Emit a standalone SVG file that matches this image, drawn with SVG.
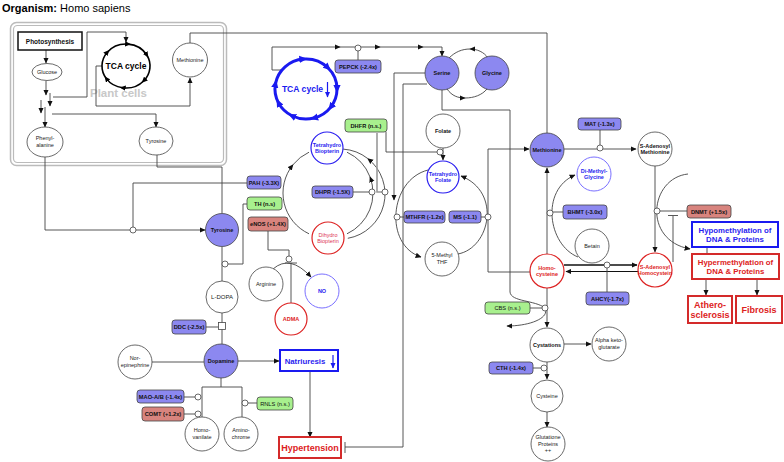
<svg xmlns="http://www.w3.org/2000/svg" width="784" height="462" viewBox="0 0 784 462">
<defs>
<marker id="a" viewBox="0 0 10 10" refX="9" refY="5" markerWidth="6" markerHeight="6" markerUnits="userSpaceOnUse" orient="auto"><path d="M0,0.5L10,5L0,9.5z" fill="#111"/></marker>
<marker id="ak" viewBox="0 0 10 10" refX="5" refY="5" markerWidth="6" markerHeight="6" markerUnits="userSpaceOnUse" orient="auto"><path d="M0,0.5L10,5L0,9.5z" fill="#000"/></marker>
<marker id="ab" viewBox="0 0 10 10" refX="5" refY="5" markerWidth="8" markerHeight="8" markerUnits="userSpaceOnUse" orient="auto"><path d="M0,0.5L10,5L0,9.5z" fill="#1a1af0"/></marker>
<marker id="abe" viewBox="0 0 10 10" refX="9" refY="5" markerWidth="6" markerHeight="6" markerUnits="userSpaceOnUse" orient="auto"><path d="M0,0.5L10,5L0,9.5z" fill="#1a1af0"/></marker>
<style>
.ln{fill:none;stroke:#444;stroke-width:0.9}
.ar{marker-end:url(#a)}
.gr{fill:none;stroke:#999;stroke-width:1.6}
.cat{fill:#fff;stroke:#444;stroke-width:0.8}
.n{fill:#fff;stroke:#444;stroke-width:0.8}
.p{fill:#8c88f0;stroke:#444;stroke-width:0.8}
.g{fill:#a8f08e;stroke:#444;stroke-width:0.8}
.s{fill:#d8847e;stroke:#444;stroke-width:0.8}
.rd{fill:#fff;stroke:#dd2222;stroke-width:1.2}
.bu{fill:#fff;stroke:#2a1ef0;stroke-width:1.2}
.lb{fill:#fff;stroke:#7a70ff;stroke-width:1}
.rb{fill:#fff;stroke:#d42a2a;stroke-width:2}
.bb{fill:#fff;stroke:#1a1af0;stroke-width:2}
text{font-family:"Liberation Sans",Arial,Helvetica,sans-serif;text-anchor:middle;font-size:5.5px;fill:#222}
.b{font-weight:bold;fill:#111}
.k{font-weight:bold;font-size:5.7px;fill:#111}
.tr{fill:#dd2222;font-weight:bold}
.tp{fill:#dd3355}
.tbl{fill:#2a1ef0;font-weight:bold}
.big{font-weight:bold;font-size:7.8px}
</style>
</defs>
<rect width="784" height="462" fill="#fff"/>
<text x="2" y="12" style="text-anchor:start;font-size:11px;fill:#000"><tspan font-weight="bold">Organism:</tspan> Homo sapiens</text>

<g id="plant-cells">
<rect x="10.5" y="22.5" width="216" height="143" rx="6" fill="none" stroke="#bbb" stroke-width="1.5"/>
<rect x="13.5" y="25.5" width="210" height="137" rx="4" fill="none" stroke="#bbb" stroke-width="1.2"/>
<text x="90" y="97" style="text-anchor:start;font-size:11.5px;font-weight:bold;fill:#c8c8c8">Plant cells</text>
</g>

<g id="connectors">
<!-- plant -->
<path class="ln ar" d="M46,50V63"/>
<path class="ln ar" d="M46,81V95"/>
<path class="ln ar" d="M50,93V106"/>
<path class="ln ar" d="M41,100V113"/>
<path class="ln ar" d="M45,107V127"/>
<path class="ln ar" d="M53,97H87V32H126V42"/>
<path class="ln ar" d="M52,114H156V127"/>
<path class="ln ar" d="M102,66H96V106H190V78"/>
<path class="ln" d="M190,43V33H547V133"/>
<path class="ln ar" d="M45,157V230H205"/>
<path class="ln" d="M247,183H133V227"/>
<path class="ln" d="M157,155V167H222V213"/>
<path class="ln" d="M222,247V281"/>
<path class="ln" d="M247,204H243V264H228"/>
<path class="ln" d="M222,313V344"/>
<path class="ln" d="M206,327H218.5"/>
<path class="ln" d="M152,362H204"/>
<path class="ln ar" d="M238,361H279"/>
<path class="ln ar" d="M310,371V437"/>
<path class="ln" d="M221,378V387M202,387H242M202,387V417M242,387V417"/>
<path class="ln" d="M184,397H195M184,414H195M257,403H248"/>
<path class="ln" d="M268,231V250H289V256"/>
<path class="ln ar" d="M273,269Q290,254 311,277"/>
<path class="ln" d="M291,303V263M285,263H297"/>
<!-- biopterin cycle -->
<path class="ln ar" d="M309,233.8A45,45 0 0 1 293,164.7"/>
<path class="ln" d="M293,164.7A45,45 0 0 1 309,152.2"/>
<path class="ln ar" d="M347,233.8A45,45 0 0 0 370,176.9"/>
<path class="ln" d="M370,176.9A45,45 0 0 0 347,152.2"/>
<path class="ln ar" d="M347.8,238.3A45,45 0 0 0 367.7,158.5"/>
<path class="ln" d="M367.7,158.5A45,45 0 0 0 343.1,149.1"/>
<path class="ln" d="M353,192H369"/>
<path class="gr" d="M377,133V192H382"/>
<path class="ln" d="M386,132V152H437"/>
<!-- TCA human to serine -->
<path class="ln ar" d="M282,70H272V47H340"/>
<path class="ln ar" d="M340,47H380"/>
<path class="ln ar" d="M380,47H423"/>
<path class="ln ar" d="M423,47H442V56"/>
<path class="ln" d="M358,60V51"/>
<path class="ln ar" d="M488,58C484,52 477,49 470,49"/>
<path class="ln" d="M470,49C462,49 455,52 449,58"/>
<path class="ln ar" d="M447,89C452,96 458,98 465,98"/>
<path class="ln" d="M465,98C474,98 482,95 487,89"/>
<!-- folate -->
<path class="ln ar" d="M443,148V160"/>
<path class="ln ar" d="M425,73H394V200"/>
<path class="ln" d="M427,84H403V447H345M345,442V453"/>
<path class="ln ar" d="M442,90V110H510V292C511,302 535,300 545,308C550,318 530,326 507,326"/>
<path class="ln ar" d="M428,170C389,180 384,245 421,257"/>
<path class="ln ar" d="M458,254C490,248 502,192 461,176"/>
<path class="ln" d="M404,217H400M481,217H485"/>
<path class="ln ar" d="M530,272H488V149H529"/>
<path class="ln ar" d="M547,254V168"/>
<path class="ln ar" d="M578,257C548,245 540,190 575,175"/>
<path class="ln" d="M563,212H553"/>
<path class="ln ar" d="M564,149H636"/>
<path class="ln" d="M600,130V145"/>
<path class="ln ar" d="M655,166V252"/>
<path class="ln ar" d="M688,174C650,178 642,240 690,249"/>
<path class="ln" d="M687,211H660"/>
<path class="ln" d="M673,262V216M668,215.5H678"/>
<path d="M564,265H637" fill="none" stroke="#111" stroke-width="1.4" marker-end="url(#a)"/>
<path d="M639,271.5H566" fill="none" stroke="#111" stroke-width="1.2" marker-end="url(#a)"/>
<path class="ln" d="M607,268V292"/>
<path class="ln" d="M530,308H542"/>
<path class="ln ar" d="M547,288V327"/>
<path class="ln ar" d="M564,344H591"/>
<path class="ln" d="M533,368H541"/>
<path class="ln ar" d="M547,362V379"/>
<path class="ln ar" d="M547,412V427"/>
<path class="ln" d="M707,247V254"/>
<path class="ln ar" d="M706,279V295"/>
<path class="ln ar" d="M757,279V295"/>
<!-- catalysis circles -->
<circle class="cat" cx="133" cy="230" r="3"/>
<circle class="cat" cx="225" cy="264" r="3"/>
<rect class="cat" x="218.5" y="322.5" width="7" height="7"/>
<circle class="cat" cx="198" cy="397" r="3"/>
<circle class="cat" cx="198" cy="414" r="3"/>
<circle class="cat" cx="245" cy="403" r="3"/>
<circle class="cat" cx="289" cy="259" r="3"/>
<circle class="cat" cx="372" cy="192" r="3"/>
<circle class="cat" cx="385" cy="192" r="3"/>
<circle class="cat" cx="440" cy="152" r="3"/>
<circle class="cat" cx="358" cy="48" r="3"/>
<circle class="cat" cx="397" cy="217" r="3"/>
<circle class="cat" cx="488" cy="217" r="3"/>
<circle class="cat" cx="550" cy="213" r="3"/>
<circle class="cat" cx="600" cy="148" r="3"/>
<circle class="cat" cx="657" cy="211" r="3"/>
<circle class="cat" cx="607" cy="265" r="3"/>
<circle class="cat" cx="545" cy="308" r="3"/>
<circle class="cat" cx="544" cy="368" r="3"/>
</g>

<g id="photosynthesis"><rect x="18" y="32" width="64" height="18" fill="#fff" stroke="#111" stroke-width="1.5"/><text class="b" x="50" y="43.5" style="font-size:6.5px">Photosynthesis</text></g>
<g id="glucose"><ellipse class="n" cx="47" cy="72" rx="15" ry="8.5"/><text x="47" y="74">Glucose</text></g>
<g id="tca-plant">
<path d="M107.35,52.16A24,22 0 0 1 128.09,44.08A24,22 0 0 1 146.78,55A24,22 0 0 1 143.84,80.72A24,22 0 0 1 122.66,87.79A24,22 0 0 1 106.34,78.62A24,22 0 0 1 107.35,52.16" fill="none" stroke="#000" stroke-width="1.6" marker-mid="url(#ak)" marker-end="url(#ak)"/>
<text x="126" y="69" style="font-size:8.5px;font-weight:bold;fill:#000">TCA cycle</text>
</g>
<g id="methionine-plant"><ellipse class="n" cx="190" cy="60" rx="17.5" ry="17"/><text x="190" y="62">Methionine</text></g>
<g id="phenylalanine"><ellipse class="n" cx="45" cy="142" rx="18" ry="15"/><text x="45" y="140">Phenyl-</text><text x="45" y="147">alanine</text></g>
<g id="tyrosine-plant"><ellipse class="n" cx="156" cy="141" rx="17" ry="14"/><text x="156" y="143">Tyrosine</text></g>

<g id="tca-human">
<path d="M275.47,83.79A31,30 0 0 1 303.3,59.11A31,30 0 0 1 327.92,67.79A31,30 0 0 1 337,89A31,30 0 0 1 330.76,107.05A31,30 0 0 1 314.02,117.98A31,30 0 0 1 291.93,115.73A31,30 0 0 1 278.38,102.62A31,30 0 0 1 275.47,83.79" fill="none" stroke="#1a1af0" stroke-width="3" marker-mid="url(#ab)" marker-end="url(#ab)"/>
<text x="302.5" y="92" style="font-size:8.6px;font-weight:bold;fill:#1a1af0">TCA cycle</text>
<path d="M327.5,82V97" stroke="#1a1af0" stroke-width="1.2" marker-end="url(#abe)"/>
</g>
<g id="pepck"><rect class="p" x="335" y="60" width="46" height="13" rx="3"/><text class="k" x="358" y="68.5">PEPCK (-2.4x)</text></g>
<g id="serine"><circle class="p" cx="442" cy="73" r="17"/><text class="b" x="442" y="75">Serine</text></g>
<g id="glycine"><circle class="p" cx="492" cy="73" r="17"/><text class="b" x="492" y="75">Glycine</text></g>
<g id="dhfr"><rect class="g" x="345" y="119" width="42" height="13" rx="3"/><text class="k" x="366" y="127.5">DHFR (n.s.)</text></g>
<g id="folate"><circle class="n" cx="443" cy="131" r="17"/><text class="b" x="443" y="133">Folate</text></g>
<g id="tetrahydrobiopterin"><circle class="bu" cx="327" cy="148" r="16"/><text class="tbl" x="327" y="146.5">Tetrahydro</text><text class="tbl" x="327" y="153">Biopterin</text></g>
<g id="pah"><rect class="p" x="247" y="176" width="34" height="13" rx="3"/><text class="k" x="264" y="184.5">PAH (-3.3X)</text></g>
<g id="dhpr"><rect class="p" x="312" y="186" width="41" height="12" rx="3"/><text class="k" x="332.5" y="194">DHPR (-1.5X)</text></g>
<g id="th"><rect class="g" x="247" y="197" width="35" height="13" rx="3"/><text class="k" x="264.5" y="205.5">TH (n.s)</text></g>
<g id="enos"><rect class="s" x="248" y="217" width="40" height="14" rx="3"/><text class="k" x="268" y="226">eNOS (+1.4X)</text></g>
<g id="dihydrobiopterin"><circle class="rd" cx="328" cy="238" r="16"/><text class="tp" x="328" y="236.5">Dihydro</text><text class="tp" x="328" y="243">Biopterin</text></g>
<g id="tyrosine"><circle class="p" cx="222" cy="230" r="16.5"/><text class="b" x="222" y="232">Tyrosine</text></g>
<g id="arginine"><circle class="n" cx="266" cy="284" r="17"/><text x="266" y="286">Arginine</text></g>
<g id="no"><circle class="lb" cx="322" cy="291" r="17"/><text class="tbl" x="322" y="293">NO</text></g>
<g id="adma"><circle class="rd" cx="291" cy="319" r="16"/><text class="tr" x="291" y="321">ADMA</text></g>
<g id="ldopa"><circle class="n" cx="222" cy="297" r="16"/><text x="222" y="299" style="font-size:6px">L-DOPA</text></g>
<g id="ddc"><rect class="p" x="172" y="320" width="34" height="14" rx="3"/><text class="k" x="189" y="329">DDC (-2.5x)</text></g>
<g id="dopamine"><circle class="p" cx="221" cy="361" r="17"/><text class="b" x="221" y="363">Dopamine</text></g>
<g id="norepinephrine"><circle class="n" cx="135" cy="362" r="17"/><text x="135" y="360">Nor-</text><text x="135" y="366.5">epinephrine</text></g>
<g id="natriuresis"><rect class="bb" x="280" y="350" width="58" height="21"/><text class="tbl" x="305" y="363.5" style="font-size:7.8px">Natriuresis</text><path d="M333,355V368" stroke="#1a1af0" stroke-width="1.2" marker-end="url(#abe)"/></g>
<g id="hypertension"><rect class="rb" x="279" y="437" width="62" height="21"/><text class="tr" x="310" y="450.5" style="font-size:9px">Hypertension</text></g>
<g id="mao"><rect class="p" x="137" y="390" width="47" height="13" rx="3"/><text class="k" x="160.5" y="398.5">MAO-A/B (-1.4x)</text></g>
<g id="comt"><rect class="s" x="142" y="407" width="42" height="14" rx="3"/><text class="k" x="163" y="416">COMT (+1.2x)</text></g>
<g id="rnls"><rect class="g" x="257" y="397" width="36" height="13" rx="3"/><text class="k" x="275" y="405.5" style="font-weight:normal">RNLS (n.s.)</text></g>
<g id="homovanilate"><circle class="n" cx="202" cy="434" r="17"/><text x="202" y="432">Homo-</text><text x="202" y="438.5">vanilate</text></g>
<g id="aminochrome"><circle class="n" cx="241" cy="434" r="17"/><text x="241" y="432">Amino-</text><text x="241" y="438.5">chrome</text></g>
<g id="tetrahydrofolate"><circle class="bu" cx="443" cy="177" r="16"/><text class="tbl" x="443" y="175.5">Tetrahydro</text><text class="tbl" x="443" y="182">Folate</text></g>
<g id="mthfr"><rect class="p" x="404" y="211" width="41" height="12" rx="3"/><text class="k" x="424.5" y="219">MTHFR (-1.2x)</text></g>
<g id="ms"><rect class="p" x="449" y="211" width="32" height="12" rx="3"/><text class="k" x="465" y="219">MS (-1.1)</text></g>
<g id="methylthf"><circle class="n" cx="442" cy="259" r="17"/><text x="442" y="257">5-Methyl</text><text x="442" y="263.5">THF</text></g>
<g id="methionine"><circle class="p" cx="547" cy="150" r="17"/><text class="b" x="547" y="152">Methionine</text></g>
<g id="mat"><rect class="p" x="578" y="118" width="43" height="12" rx="3"/><text class="k" x="599.5" y="126">MAT (-1.3x)</text></g>
<g id="sam"><circle class="n" cx="655" cy="149" r="17"/><text class="b" x="655" y="147.5">S-Adenosyl</text><text class="b" x="655" y="154">Methionine</text></g>
<g id="dimethylglycine"><circle class="lb" cx="594" cy="174" r="17"/><text class="tbl" x="594" y="172.5">Di-Methyl-</text><text class="tbl" x="594" y="179">Glycine</text></g>
<g id="bhmt"><rect class="p" x="563" y="205" width="44" height="14" rx="3"/><text class="k" x="585" y="214">BHMT (-3.0x)</text></g>
<g id="betain"><circle class="n" cx="592" cy="246" r="17"/><text x="592" y="248">Betain</text></g>
<g id="homocysteine"><circle class="rd" cx="547" cy="271" r="17"/><text class="tr" x="547" y="269.5">Homo-</text><text class="tr" x="547" y="276">cysteine</text></g>
<g id="sah"><circle class="rd" cx="655" cy="270" r="17"/><text class="tr" x="655" y="268.5">S-Adenosyl</text><text class="tr" x="655" y="275">Homocystein</text></g>
<g id="dnmt"><rect class="s" x="687" y="205" width="44" height="13" rx="3"/><text class="k" x="709" y="213.5">DNMT (+1.5x)</text></g>
<g id="ahcy"><rect class="p" x="586" y="292" width="43" height="13" rx="3"/><text class="k" x="607.5" y="300.5">AHCY(-1.7x)</text></g>
<g id="cbs"><rect class="g" x="485" y="302" width="45" height="12" rx="3"/><text class="k" x="507.5" y="310" style="font-weight:normal">CBS (n.s.)</text></g>
<g id="cystathionine"><circle class="n" cx="547" cy="345" r="17"/><text class="b" x="547" y="347">Cystations</text></g>
<g id="alphaketoglutarate"><circle class="n" cx="609" cy="344" r="17"/><text x="609" y="342">Alpha keto-</text><text x="609" y="348.5">glutarate</text></g>
<g id="cth"><rect class="p" x="489" y="362" width="44" height="12" rx="3"/><text class="k" x="511" y="370">CTH (-1.4x)</text></g>
<g id="cysteine"><circle class="n" cx="547" cy="396" r="16"/><text x="547" y="398">Cysteine</text></g>
<g id="glutathione"><circle class="n" cx="548" cy="444" r="17"/><text x="548" y="439">Glutatione</text><text x="548" y="445.5">Proteins</text><text x="548" y="452">++</text></g>
<g id="hypomethylation"><rect class="bb" x="692" y="222" width="86" height="25"/><text class="tbl big" x="735" y="232.5">Hypomethylation of</text><text class="tbl big" x="735" y="242">DNA &amp; Proteins</text></g>
<g id="hypermethylation"><rect class="rb" x="692" y="254" width="87" height="25"/><text class="tr big" x="735.5" y="264.5">Hypermethylation of</text><text class="tr big" x="735.5" y="274">DNA &amp; Proteins</text></g>
<g id="atherosclerosis"><rect class="rb" x="688" y="296" width="44" height="27"/><text class="tr" x="710" y="307.5" style="font-size:9px">Athero-</text><text class="tr" x="710" y="318" style="font-size:9px">sclerosis</text></g>
<g id="fibrosis"><rect class="rb" x="736" y="296" width="46" height="27"/><text class="tr" x="759" y="313" style="font-size:9px">Fibrosis</text></g>
</svg>
